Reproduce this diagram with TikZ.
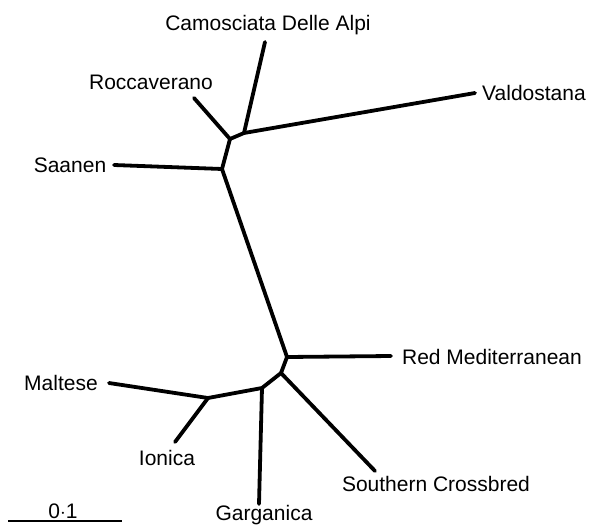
\documentclass[tikz,border=0pt]{standalone}
\usepackage{fontspec}
\setmainfont{Liberation Sans}

\begin{document}
\begin{tikzpicture}[x=1pt, y=-1pt]
  \tikzstyle{race}=[inner sep=0, font=\fontsize{21}{24}\selectfont];
  \tikzstyle{branche}=[line width=3.8pt, line cap=round, line join=round];

  \useasboundingbox (0,0) rectangle (589,525);

  % noeuds internes
  \coordinate (J0) at (222,169);
  \coordinate (J1) at (230,139);
  \coordinate (J2) at (244,133);
  \coordinate (J3) at (287,357);
  \coordinate (J4) at (281,373);
  \coordinate (J5) at (262,388);
  \coordinate (J6) at (208,398);

  % extremites
  \coordinate (Cam) at (265,42);
  \coordinate (Roc) at (194,98);
  \coordinate (Val) at (475,93);
  \coordinate (Saa) at (114,165);
  \coordinate (Red) at (391,356);
  \coordinate (Sou) at (375,471);
  \coordinate (Gar) at (259,504);
  \coordinate (Mal) at (109,383);
  \coordinate (Ion) at (175,442);

  \draw[branche] (Roc) -- (J1) -- (J2) -- (Cam);
  \draw[branche] (J2) -- (Val);
  \draw[branche] (Saa) -- (J0) -- (J1);
  \draw[branche] (J0) -- (J3) -- (Red);
  \draw[branche] (J3) -- (J4) -- (Sou);
  \draw[branche] (J4) -- (J5) -- (Gar);
  \draw[branche] (J5) -- (J6) -- (Mal);
  \draw[branche] (J6) -- (Ion);

  \node[race] (cam) at (268,25) {Camosciata Delle Alpi};
  \node[race] (roc) at (151,82) {Roccaverano};
  \node[race] (val) at (534,93) {Valdostana};
  \node[race] (saa) at (70,165) {Saanen};
  \node[race] (red) at (492,357) {Red Mediterranean};
  \node[race] (sou) at (436,484) {Southern Crossbred};
  \node[race] (gar) at (264,515) {Garganica};
  \node[race] (mal) at (61,383) {Maltese};
  \node[race] (ion) at (167,458) {Ionica};

  % echelle
  \coordinate (E1) at (8,521);
  \coordinate (E2) at (122,521);
  \draw[line width=1.2pt] (E1) -- (E2);
  \node[race] (ech) at (63,511) {0$\cdot$1};
\end{tikzpicture}
\end{document}
